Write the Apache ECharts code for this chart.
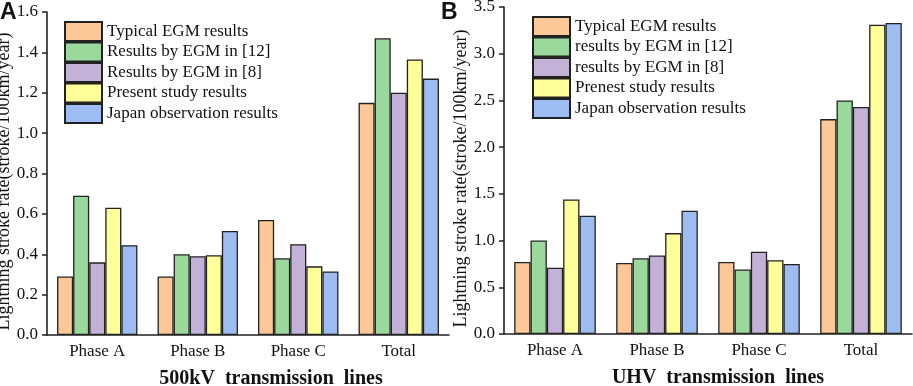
<!DOCTYPE html>
<html>
<head>
<meta charset="utf-8">
<script src="https://cdn.jsdelivr.net/npm/echarts@6/dist/echarts.min.js"></script>
<style>
html,body{margin:0;padding:0;background:#fff;}
#chart{width:913px;height:386px;}
</style>
</head>
<body>
<div id="chart"></div>
<script>
var categories = ['Phase A', 'Phase B', 'Phase C', 'Total'];

var namesA = ['Typical EGM results', 'Results by EGM in [12]', 'Results by EGM in [8]', 'Present study results', 'Japan observation results'];
var namesB = ['Typical EGM results', 'results by EGM in [12]', 'results by EGM in [8]', 'Prenest study results', 'Japan observation results'];
var colors = ['#FDC897', '#9AD89C', '#C4B1D8', '#FFFF99', '#9DBDF2'];

// 500kV lines
var typicalA = [0.29, 0.29, 0.57, 1.15];
var egm12A = [0.69, 0.40, 0.38, 1.47];
var egm8A = [0.36, 0.39, 0.45, 1.20];
var presentA = [0.63, 0.395, 0.34, 1.365];
var japanA = [0.445, 0.515, 0.315, 1.27];

// UHV lines
var typicalB = [0.77, 0.76, 0.77, 2.30];
var egm12B = [1.00, 0.81, 0.69, 2.50];
var egm8B = [0.71, 0.84, 0.88, 2.43];
var presentB = [1.44, 1.08, 0.79, 3.31];
var japanB = [1.265, 1.32, 0.75, 3.33];

var dataA = [typicalA, egm12A, egm8A, presentA, japanA];
var dataB = [typicalB, egm12B, egm8B, presentB, japanB];

var serif = 'Liberation Serif';
var axisColor = '#222';

function makeX(idx, title, shift) {
    return {
        type: 'category',
        gridIndex: idx,
        data: categories,
        axisLine: {lineStyle: {color: axisColor, width: 1.6}},
        axisTick: {show: false},
        axisLabel: {color: '#111', fontFamily: serif, fontSize: 17, margin: 8},
        name: title,
        nameLocation: 'middle',
        nameGap: 34,
        nameTextStyle: {color: '#111', fontFamily: serif, fontSize: 20, fontWeight: 'bold', padding: [0, 0, 0, shift]}
    };
}

function makeY(idx, max, interval, gap) {
    return {
        type: 'value',
        gridIndex: idx,
        min: 0,
        max: max,
        interval: interval,
        splitLine: {show: false},
        axisLine: {show: true, lineStyle: {color: axisColor, width: 1.6}},
        axisTick: {show: true, length: 5, lineStyle: {color: axisColor, width: 1.5}},
        axisLabel: {
            color: '#111', fontFamily: serif, fontSize: 17, margin: 9,
            formatter: function (v) { return v.toFixed(1); }
        },
        name: 'Lightning stroke rate(stroke/100km/year)',
        nameLocation: 'middle',
        nameGap: gap,
        nameTextStyle: {color: '#111', fontFamily: serif, fontSize: 18, padding: [0, 16, 0, 0]}
    };
}

var series = [];
for (var i = 0; i < 5; i++) {
    series.push({
        name: namesA[i], type: 'bar', xAxisIndex: 0, yAxisIndex: 0,
        data: dataA[i], barGap: 0, barWidth: '16%',
        itemStyle: {color: colors[i], borderColor: axisColor, borderWidth: 1.3}
    });
}
for (var j = 0; j < 5; j++) {
    series.push({
        name: namesB[j], type: 'bar', xAxisIndex: 1, yAxisIndex: 1,
        data: dataB[j], barGap: 0, barWidth: '16%',
        itemStyle: {color: colors[j], borderColor: axisColor, borderWidth: 1.3}
    });
}

function makeLegend(names, left, top) {
    return {
        data: names,
        orient: 'vertical',
        left: left,
        top: top,
        icon: 'rect',
        itemWidth: 37,
        itemHeight: 19,
        itemGap: -0.5,
        padding: 0,
        textStyle: {color: '#111', fontFamily: serif, fontSize: 17, lineHeight: 19}
    };
}

var chart = echarts.init(document.getElementById('chart'));
chart.setOption({
    animation: false,
    title: [
        {text: 'A', left: 0, top: 1, padding: 0, textStyle: {fontFamily: 'Liberation Sans', fontSize: 23, fontWeight: 'bold', color: '#111'}},
        {text: 'B', left: 441, top: 1, padding: 0, textStyle: {fontFamily: 'Liberation Sans', fontSize: 23, fontWeight: 'bold', color: '#111'}}
    ],
    legend: [makeLegend(namesA, 64, 21), makeLegend(namesB, 532, 16)],
    grid: [
        {left: 47, right: 464, top: 12, bottom: 51, outerBoundsMode: 'none'},
        {left: 504, right: 1, top: 7, bottom: 52, outerBoundsMode: 'none'}
    ],
    xAxis: [makeX(0, '500kV  transmission  lines', 46), makeX(1, 'UHV  transmission  lines', 20)],
    yAxis: [makeY(0, 1.6, 0.2, 27), makeY(1, 3.5, 0.5, 31)],
    series: series
});
</script>
</body>
</html>
